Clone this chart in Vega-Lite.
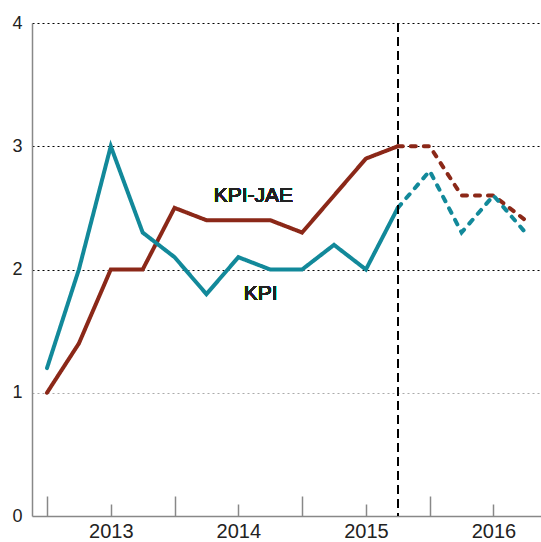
{
  "$schema": "https://vega.github.io/schema/vega-lite/v6.json",
  "width": 509,
  "height": 493,
  "autosize": "none",
  "padding": {"left": 32, "top": 23, "right": 0, "bottom": 26},
  "background": "white",
  "config": {"view": {"stroke": null}, "font": "Liberation Sans"},
  "data": {"values": [
    {"t": 0, "v": 1.0, "series": "KPI-JAE", "part": "hist"},
    {"t": 1, "v": 1.4, "series": "KPI-JAE", "part": "hist"},
    {"t": 2, "v": 2.0, "series": "KPI-JAE", "part": "hist"},
    {"t": 3, "v": 2.0, "series": "KPI-JAE", "part": "hist"},
    {"t": 4, "v": 2.5, "series": "KPI-JAE", "part": "hist"},
    {"t": 5, "v": 2.4, "series": "KPI-JAE", "part": "hist"},
    {"t": 6, "v": 2.4, "series": "KPI-JAE", "part": "hist"},
    {"t": 7, "v": 2.4, "series": "KPI-JAE", "part": "hist"},
    {"t": 8, "v": 2.3, "series": "KPI-JAE", "part": "hist"},
    {"t": 9, "v": 2.6, "series": "KPI-JAE", "part": "hist"},
    {"t": 10, "v": 2.9, "series": "KPI-JAE", "part": "hist"},
    {"t": 11, "v": 3.0, "series": "KPI-JAE", "part": "hist"},
    {"t": 11, "v": 3.0, "series": "KPI-JAE", "part": "proj"},
    {"t": 12, "v": 3.0, "series": "KPI-JAE", "part": "proj"},
    {"t": 13, "v": 2.6, "series": "KPI-JAE", "part": "proj"},
    {"t": 14, "v": 2.6, "series": "KPI-JAE", "part": "proj"},
    {"t": 15, "v": 2.4, "series": "KPI-JAE", "part": "proj"},
    {"t": 0, "v": 1.2, "series": "KPI", "part": "hist"},
    {"t": 1, "v": 2.0, "series": "KPI", "part": "hist"},
    {"t": 2, "v": 3.0, "series": "KPI", "part": "hist"},
    {"t": 3, "v": 2.3, "series": "KPI", "part": "hist"},
    {"t": 4, "v": 2.1, "series": "KPI", "part": "hist"},
    {"t": 5, "v": 1.8, "series": "KPI", "part": "hist"},
    {"t": 6, "v": 2.1, "series": "KPI", "part": "hist"},
    {"t": 7, "v": 2.0, "series": "KPI", "part": "hist"},
    {"t": 8, "v": 2.0, "series": "KPI", "part": "hist"},
    {"t": 9, "v": 2.2, "series": "KPI", "part": "hist"},
    {"t": 10, "v": 2.0, "series": "KPI", "part": "hist"},
    {"t": 11, "v": 2.5, "series": "KPI", "part": "hist"},
    {"t": 11, "v": 2.5, "series": "KPI", "part": "proj"},
    {"t": 12, "v": 2.8, "series": "KPI", "part": "proj"},
    {"t": 13, "v": 2.3, "series": "KPI", "part": "proj"},
    {"t": 14, "v": 2.6, "series": "KPI", "part": "proj"},
    {"t": 15, "v": 2.3, "series": "KPI", "part": "proj"}
  ]},
  "layer": [
    {
      "mark": {"type": "line", "strokeWidth": 4, "strokeCap": "round"},
      "encoding": {
        "x": {
          "field": "t", "type": "quantitative",
          "scale": {"domain": [-0.47, 15.49], "nice": false, "zero": false},
          "axis": {
            "title": null,
            "values": [0,1,2,3,4,5,6,7,8,9,10,11,12,13,14,15],
            "labelExpr": "datum.value % 4 == 2 ? '' + (2013 + floor(datum.value / 4)) : ''",
            "grid": false,
            "domainColor": "#888",
            "domainWidth": 1.5,
            "tickColor": "#888",
            "tickWidth": 1.5,
            "tickSize": {"condition": {"test": "datum.value % 4 == 0", "value": -20}, "value": -12},
            "labelFontSize": 20,
            "labelColor": "#222",
            "labelPadding": 17,
            "labelFlush": false,
            "labelOverlap": false
          }
        },
        "y": {
          "field": "v", "type": "quantitative",
          "scale": {"domain": [0, 4], "nice": false},
          "axis": {
            "title": null,
            "values": [0, 1, 2, 3, 4],
            "format": "d",
            "grid": true,
            "gridDash": [2, 3],
            "gridWidth": 1,
            "gridColor": {"condition": {"test": "datum.value == 1", "value": "#aaa"}, "value": "#000"},
            "gridOpacity": {"condition": {"test": "datum.value == 0", "value": 0}, "value": 1},
            "ticks": false,
            "domainColor": "#888",
            "domainWidth": 1.5,
            "labelFontSize": 18,
            "labelColor": "#222",
            "labelPadding": 10
          }
        },
        "color": {
          "field": "series", "type": "nominal",
          "scale": {"domain": ["KPI", "KPI-JAE"], "range": ["#12899a", "#8b2818"]},
          "legend": null
        },
        "strokeDash": {
          "field": "part", "type": "nominal",
          "scale": {"domain": ["hist", "proj"], "range": [[1, 0], [5, 8]]},
          "legend": null
        }
      }
    },
    {
      "mark": {"type": "rule", "color": "#000", "strokeWidth": 1, "strokeDash": [9, 5]},
      "encoding": {"x": {"datum": 11, "type": "quantitative"}}
    },
    {
      "mark": {"type": "text", "fontSize": 21, "fontWeight": "normal", "color": "#222", "align": "center", "baseline": "middle"},
      "encoding": {
        "x": {"datum": 6.47, "type": "quantitative"},
        "y": {"datum": 2.6, "type": "quantitative"},
        "text": {"value": "KPI-JAE"}
      }
    },
    {
      "mark": {"type": "text", "fontSize": 21, "fontWeight": "normal", "color": "#222", "align": "center", "baseline": "middle"},
      "encoding": {
        "x": {"datum": 6.7, "type": "quantitative"},
        "y": {"datum": 1.8, "type": "quantitative"},
        "text": {"value": "KPI"}
      }
    }
  ]
}
